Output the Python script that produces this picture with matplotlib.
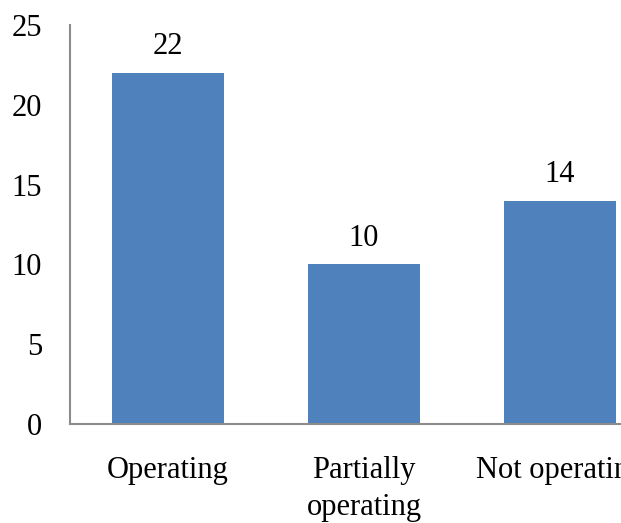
import matplotlib.pyplot as plt
import numpy as np

categories = ['Operating', 'Partially\noperating', 'Not operating']
counts = [22, 10, 14]
yticks = [0, 5, 10, 15, 20, 25]

plt.rcParams['font.family'] = ['Liberation Serif', 'DejaVu Serif']

fig = plt.figure(figsize=(6.21, 5.23), dpi=100)
# axes run past the right edge, so the last label gets cut off
ax = fig.add_axes([70 / 621, 99 / 523, 588 / 621, 399 / 523])

x = np.arange(len(categories))
bars = ax.bar(x, counts, width=0.571, color='#4f81bd')

for b, v in zip(bars, counts):
    ax.annotate(str(v), (b.get_x() + b.get_width() / 2, v),
                xytext=(0, 19), textcoords='offset points',
                ha='center', va='center', fontsize=22)

ax.set_xlim(-0.5, 2.5)
ax.set_ylim(0, 25)
ax.set_yticks(yticks)
ax.set_xticks(x)
ax.set_xticklabels(categories, fontsize=22, linespacing=1.35, va='top')
ax.tick_params(axis='y', length=0, pad=20, labelsize=22)
ax.tick_params(axis='x', length=0, pad=23)

for s in ['top', 'right']:
    ax.spines[s].set_visible(False)
for s in ['left', 'bottom']:
    ax.spines[s].set_color('#8c8c8c')
    ax.spines[s].set_linewidth(1.5)

fig.savefig('out.png', dpi=100)
